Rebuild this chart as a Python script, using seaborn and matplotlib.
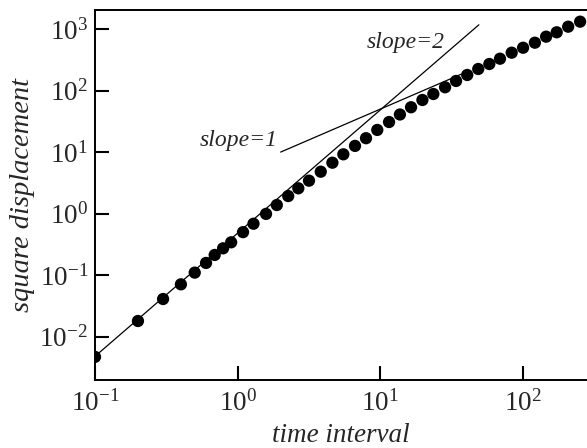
import matplotlib
matplotlib.use("Agg")
import matplotlib.pyplot as plt
import seaborn as sns

sns.set_style("ticks")
plt.rcParams['font.family'] = ['Liberation Serif', 'DejaVu Serif']
plt.rcParams['mathtext.fontset'] = 'stix'
plt.rcParams['axes.unicode_minus'] = False

# mean square displacement vs time interval
time_interval = [0.1, 0.2, 0.3, 0.4, 0.5, 0.6, 0.69, 0.79, 0.9, 1.09, 1.29,
                 1.58, 1.88, 2.26, 2.66, 3.16, 3.82, 4.61, 5.5, 6.64, 7.93,
                 9.51, 11.5, 13.7, 16.4, 19.7, 23.5, 28.4, 33.9, 40.6, 48.5,
                 58.0, 68.9, 83.2, 100, 121, 145, 172, 207, 251]
square_disp = [0.0047, 0.018, 0.041, 0.071, 0.11, 0.158, 0.213, 0.273, 0.342,
               0.50, 0.685, 0.99, 1.38, 1.93, 2.58, 3.43, 4.80, 6.72, 9.20,
               12.6, 16.8, 22.9, 30.8, 40.8, 53.5, 70.2, 87.9, 113, 143, 179,
               224, 270, 329, 412, 496, 599, 750, 884, 1090, 1315]

# reference power-law lines (end points)
slope1_t = [2.0, 40.0]
slope1_y = [10.0, 200.0]
slope2_t = [0.1, 49.0]
slope2_y = [0.0048, 1170.0]

fig = plt.figure(figsize=(5.87, 4.48), dpi=100)
ax = fig.add_axes([95 / 587, 1 - 380 / 448, 1 - 95 / 587, 370 / 448])

ax.plot(slope2_t, slope2_y, color='black', lw=0.9, zorder=1)
ax.plot(slope1_t, slope1_y, color='black', lw=0.9, zorder=1)
sns.scatterplot(x=time_interval, y=square_disp, ax=ax, color='black',
                s=78, edgecolor='none', zorder=3, legend=False)

ax.set_xscale('log')
ax.set_yscale('log')
ax.set_xlim(0.1, 280.5)
ax.set_ylim(0.00198, 2035)

ax.tick_params(which='major', direction='in', length=10, width=1.5,
               color='black', labelsize=19.5)
ax.tick_params(which='minor', length=0)
ax.tick_params(axis='y', pad=5)
ax.tick_params(axis='x', pad=7)
ax.spines['right'].set_visible(False)
for side in ['left', 'bottom', 'top']:
    ax.spines[side].set_linewidth(1.4)
    ax.spines[side].set_color('black')

ax.text(1.91, 15.7, 'slope=1', fontsize=17, style='italic', ha='right', va='center')
ax.text(28.4, 593, 'slope=2', fontsize=17, style='italic', ha='right', va='center')

ax.set_xlabel('time interval', fontsize=19.5, style='italic', labelpad=5)
ax.set_ylabel('square displacement', fontsize=20.5, style='italic', labelpad=3)

fig.savefig('out.png', dpi=100)
